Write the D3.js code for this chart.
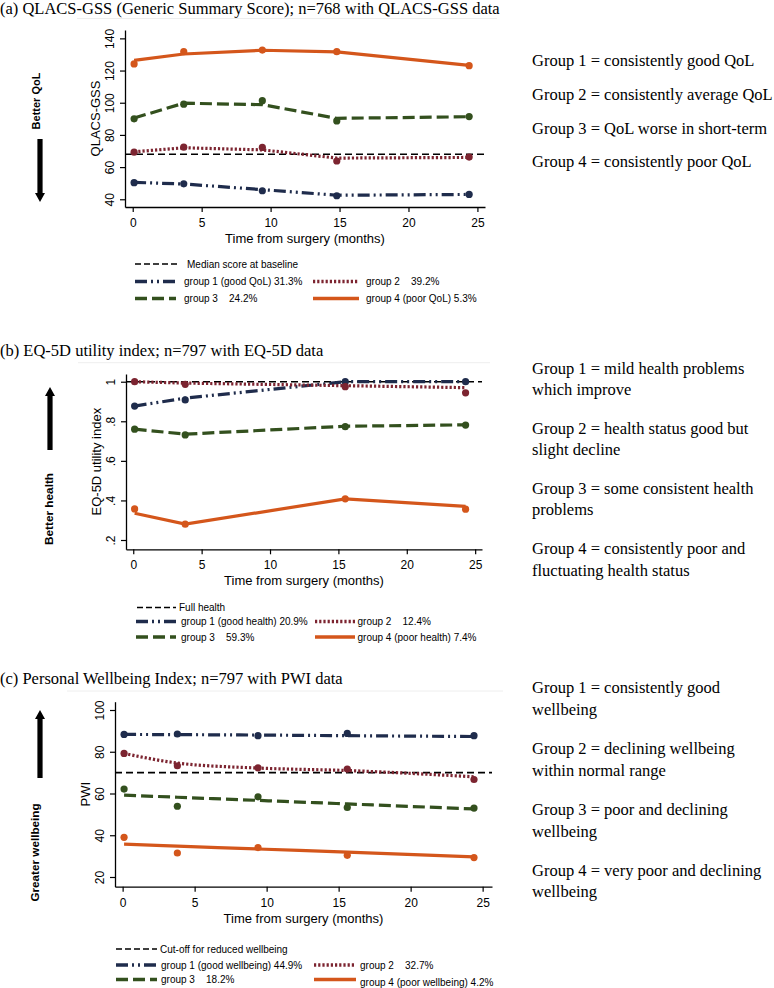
<!DOCTYPE html>
<html>
<head>
<meta charset="utf-8">
<script src="https://cdn.jsdelivr.net/npm/d3@7"></script>
<style>
body { margin: 0; background: #fff; }
svg { display: block; }
</style>
</head>
<body>
<script>
'use strict';

// months after surgery at which the groups were measured
var qlacsMonths = [0.1, 3.7, 9.4, 14.8, 24.4];
var eqMonths = [0.1, 3.8, 15.5, 24.3];
var pwiMonths = [0.1, 3.8, 9.4, 15.6, 24.4];

// observed group means (dots) and fitted trajectories (lines), groups 1..4
var qlacsObserved = [
	[50.3, 49.6, 45.3, 42.2, 43.0],
	[69.3, 72.4, 72.2, 63.8, 66.2],
	[90.0, 99.1, 101.3, 88.7, 91.4],
	[124.1, 131.7, 132.7, 131.7, 123.0]
];
var qlacsFitted = [
	[50.5, 49.5, 46.0, 42.5, 43.0],
	[69.5, 72.0, 70.7, 65.6, 66.0],
	[90.5, 99.7, 98.8, 90.3, 91.3],
	[126.3, 130.3, 132.6, 131.6, 123.2]
];
var eqObserved = [
	[0.877, 0.908, 1.0, 1.0],
	[1.0, 0.987, 0.975, 0.944],
	[0.760, 0.731, 0.773, 0.781],
	[0.357, 0.280, 0.408, 0.356]
];
var eqFitted = [
	[0.877, 0.917, 1.0, 1.0],
	[1.0, 0.993, 0.98, 0.97],
	[0.760, 0.735, 0.775, 0.782],
	[0.335, 0.280, 0.408, 0.370]
];
var pwiObserved = [
	[88.3, 88.5, 87.7, 88.8, 87.7],
	[79.2, 73.3, 72.3, 71.7, 66.7],
	[62.1, 53.9, 58.4, 53.3, 53.0],
	[39.0, 31.5, 34.1, 30.4, 29.3]
];
var pwiFitted = [
	[88.3, 88.2, 88.0, 87.7, 87.3],
	[79.2, 74.6, 72.2, 71.0, 68.0],
	[59.2, 58.2, 56.7, 55.0, 52.6],
	[35.7, 34.8, 33.4, 31.9, 29.6]
];

// reference lines
var qlacsRef = 68;
var eqRef = 1;
var pwiRef = 70;

var monthTicks = [0, 5, 10, 15, 20, 25];
var qlacsTicks = [40, 60, 80, 100, 120, 140];
var eqTicks = [0.2, 0.4, 0.6, 0.8, 1];
var pwiTicks = [20, 40, 60, 80, 100];

var gap = '\u00a0\u00a0\u00a0 ';
var qlacsLegend = ['Median score at baseline', 'group 1 (good QoL) 31.3%', 'group 2' + gap + '39.2%', 'group 3' + gap + '24.2%', 'group 4 (poor QoL) 5.3%'];
var eqLegend = ['Full health', 'group 1 (good health) 20.9%', 'group 2' + gap + '12.4%', 'group 3' + gap + '59.3%', 'group 4 (poor health) 7.4%'];
var pwiLegend = ['Cut-off for reduced wellbeing', 'group 1 (good wellbeing) 44.9%', 'group 2' + gap + '32.7%', 'group 3' + gap + '18.2%', 'group 4 (poor wellbeing) 4.2%'];

var qlacsNotes = ['Group 1 = consistently good QoL', 'Group 2 = consistently average QoL', 'Group 3 = QoL worse in short-term', 'Group 4 = consistently poor QoL'];
var eqNotes = ['Group 1 = mild health problems', 'which improve', 'Group 2 = health status good but', 'slight decline', 'Group 3 = some consistent health', 'problems', 'Group 4 = consistently poor and', 'fluctuating health status'];
var pwiNotes = ['Group 1 = consistently good', 'wellbeing', 'Group 2 = declining wellbeing', 'within normal range', 'Group 3 = poor and declining', 'wellbeing', 'Group 4 = very poor and declining', 'wellbeing'];

var groupColors = ['#1f2c4c', '#7c2430', '#33501e', '#d4561b'];
var groupDashes = ['12,4,2,4,2,4', '2.2,2', '12,5', null];

var SANS = 'Liberation Sans, Arial, sans-serif';
var SERIF = 'Liberation Serif, Times New Roman, serif';

var svg = d3.select('body').append('svg').attr('width', 774).attr('height', 988);

function drawArrow(cx, yTail, yTip) {
	var dir = yTip > yTail ? 1 : -1;
	var headLen = 9, headHalf = 5, shaftHalf = 2.6;
	var yBase = yTip - dir * headLen;
	var pts = [
		[cx - shaftHalf, yTail], [cx - shaftHalf, yBase], [cx - headHalf, yBase],
		[cx, yTip], [cx + headHalf, yBase], [cx + shaftHalf, yBase], [cx + shaftHalf, yTail]
	];
	svg.append('path').attr('d', 'M' + pts.join('L') + 'Z').attr('fill', '#000');
}

function drawPanel(p) {
	var x = d3.scaleLinear().domain(p.xDomain).range([p.left, p.right]);
	var y = d3.scaleLinear().domain(p.yDomain).range([p.bottom, p.top]);
	var g = svg.append('g');

	// faint graph-region edge
	g.append('line')
		.attr('x1', p.frame[0]).attr('x2', p.frame[1])
		.attr('y1', p.frame[2]).attr('y2', p.frame[2])
		.attr('stroke', '#eeeeee').attr('stroke-width', 1);

	g.append('text')
		.attr('x', 0).attr('y', p.titleY)
		.attr('font-family', SERIF).attr('font-size', 16.5)
		.text(p.title);

	// reference line
	g.append('line')
		.attr('x1', p.left).attr('x2', p.right)
		.attr('y1', y(p.ref)).attr('y2', y(p.ref))
		.attr('stroke', '#000').attr('stroke-width', 1.6)
		.attr('stroke-dasharray', '7,4');

	p.fitted.forEach(function (vals, i) {
		var line = d3.line()
			.x(function (d, j) { return x(p.months[j]); })
			.y(function (d) { return y(d); })
			.curve(p.curve);
		g.append('path').datum(vals)
			.attr('d', line)
			.attr('fill', 'none')
			.attr('stroke', groupColors[i])
			.attr('stroke-width', 3.2)
			.attr('stroke-dasharray', groupDashes[i]);
	});

	p.observed.forEach(function (vals, i) {
		g.selectAll(null).data(vals).enter()
			.append('circle')
			.attr('cx', function (d, j) { return x(p.months[j]); })
			.attr('cy', function (d) { return y(d); })
			.attr('r', 3.6)
			.attr('fill', groupColors[i]);
	});

	// axes
	var xAxis = g.append('g')
		.attr('transform', 'translate(0,' + p.bottom + ')')
		.call(d3.axisBottom(x).tickValues(monthTicks).tickSize(5).tickSizeOuter(0).tickPadding(6.5));
	var yAxis = g.append('g')
		.attr('transform', 'translate(' + p.left + ',0)')
		.call(d3.axisLeft(y).tickValues(p.yTicks).tickFormat(p.yFormat).tickSize(5).tickSizeOuter(0));

	[xAxis, yAxis].forEach(function (ax) {
		ax.select('.domain').attr('stroke', '#000').attr('stroke-width', 1.3);
		ax.selectAll('.tick line').attr('stroke', '#000').attr('stroke-width', 1.2);
		ax.selectAll('text').attr('font-family', SANS).attr('font-size', 12).attr('fill', '#000');
	});
	yAxis.selectAll('.tick text')
		.attr('transform', 'rotate(-90)')
		.attr('x', 0).attr('y', -11.5).attr('dy', 0)
		.attr('text-anchor', 'middle');

	g.append('text')
		.attr('x', (p.left + p.right) / 2).attr('y', p.bottom + 36)
		.attr('text-anchor', 'middle')
		.attr('font-family', SANS).attr('font-size', 13)
		.text('Time from surgery (months)');

	g.append('text')
		.attr('transform', 'translate(' + (p.left - 25) + ',' + (p.top + p.bottom) / 2 + ') rotate(-90)')
		.attr('text-anchor', 'middle')
		.attr('font-family', SANS).attr('font-size', 13)
		.text(p.yLabel);

	// legend: reference on its own row, then groups two per row
	var L = p.legend;
	var items = p.legendLabels.map(function (label, i) {
		if (i === 0) return { label: label, row: 0, col: L.ref, dy: 0 };
		var col = (i % 2 === 1) ? L.col1 : L.col2;
		return { label: label, row: Math.ceil(i / 2), col: col, idx: i - 1, dy: (i === 4 ? L.lastDy : 0) };
	});
	items.forEach(function (it) {
		var yy = L.rows[it.row];
		var ln = g.append('line')
			.attr('x1', it.col[0]).attr('x2', it.col[1])
			.attr('y1', yy).attr('y2', yy);
		if (it.idx === undefined) {
			ln.attr('stroke', '#000').attr('stroke-width', 1.6).attr('stroke-dasharray', '6,3');
		} else {
			ln.attr('stroke', groupColors[it.idx]).attr('stroke-width', 3.4)
				.attr('stroke-dasharray', groupDashes[it.idx]);
		}
		g.append('text')
			.attr('x', it.col[2]).attr('y', yy + 3.6 + it.dy)
			.attr('font-family', SANS).attr('font-size', 10)
			.text(it.label);
	});

	// left side direction cue
	g.append('text')
		.attr('transform', 'translate(' + p.cue.x + ',' + p.cue.y + ') rotate(-90)')
		.attr('text-anchor', 'middle')
		.attr('font-family', SANS).attr('font-size', p.cue.size).attr('font-weight', 'bold')
		.text(p.cue.text);
	drawArrow(p.arrow[0], p.arrow[1], p.arrow[2]);

	// notes on the right
	p.notes.forEach(function (t, i) {
		g.append('text')
			.attr('x', 532).attr('y', p.noteYs[i])
			.attr('font-family', SERIF).attr('font-size', 16.5)
			.text(t);
	});
}

var stataFormat = function (d) { return d === 1 ? '1' : d3.format('.1f')(d).replace(/^0/, ''); };

drawPanel({
	title: '(a) QLACS-GSS (Generic Summary Score); n=768 with QLACS-GSS data',
	titleY: 14,
	frame: [77, 497, 18.5],
	left: 125, right: 485, top: 30, bottom: 207,
	xDomain: [-0.56, 25.55], yDomain: [35.2, 145.2],
	months: qlacsMonths, observed: qlacsObserved, fitted: qlacsFitted,
	curve: d3.curveLinear,
	ref: qlacsRef, yTicks: qlacsTicks, yFormat: d3.format('d'), yLabel: 'QLACS-GSS',
	legendLabels: qlacsLegend,
	legend: { rows: [264, 281.5, 298.5], ref: [135, 178, 187], col1: [135, 176, 184], col2: [313, 359, 366], lastDy: 0 },
	cue: { text: 'Better QoL', x: 39.5, y: 101, size: 11 },
	arrow: [40, 139, 202],
	notes: qlacsNotes, noteYs: [66, 100, 134, 167]
});

drawPanel({
	title: '(b) EQ-5D utility index; n=797 with EQ-5D data',
	titleY: 356,
	frame: [78, 490, 362.7],
	left: 126, right: 482, top: 374, bottom: 549.3,
	xDomain: [-0.53, 25.5], yDomain: [0.153, 1.039],
	months: eqMonths, observed: eqObserved, fitted: eqFitted,
	curve: d3.curveLinear,
	ref: eqRef, yTicks: eqTicks, yFormat: stataFormat, yLabel: 'EQ-5D utility index',
	legendLabels: eqLegend,
	legend: { rows: [607.5, 621.5, 637], ref: [137, 176, 179], col1: [136, 176, 181], col2: [315, 355, 357.5], lastDy: 0 },
	cue: { text: 'Better health', x: 53, y: 509, size: 11.8 },
	arrow: [50, 450, 387],
	notes: eqNotes, noteYs: [374, 395, 434, 455, 494, 515, 554, 576]
});

drawPanel({
	title: '(c) Personal Wellbeing Index; n=797 with PWI data',
	titleY: 683.5,
	frame: [67, 503, 691],
	left: 115, right: 492, top: 701.7, bottom: 886.7,
	xDomain: [-0.53, 25.65], yDomain: [15.35, 103.98],
	months: pwiMonths, observed: pwiObserved, fitted: pwiFitted,
	curve: d3.curveMonotoneX,
	ref: pwiRef, yTicks: pwiTicks, yFormat: d3.format('d'), yLabel: 'PWI',
	legendLabels: pwiLegend,
	legend: { rows: [949, 965, 979.5], ref: [116, 157, 160], col1: [116, 157, 161], col2: [314, 356, 360], lastDy: 3 },
	cue: { text: 'Greater wellbeing', x: 39, y: 852.5, size: 11.7 },
	arrow: [40, 778, 710],
	notes: pwiNotes, noteYs: [693, 715, 754, 776, 815, 837, 876, 897]
});
</script>
</body>
</html>
